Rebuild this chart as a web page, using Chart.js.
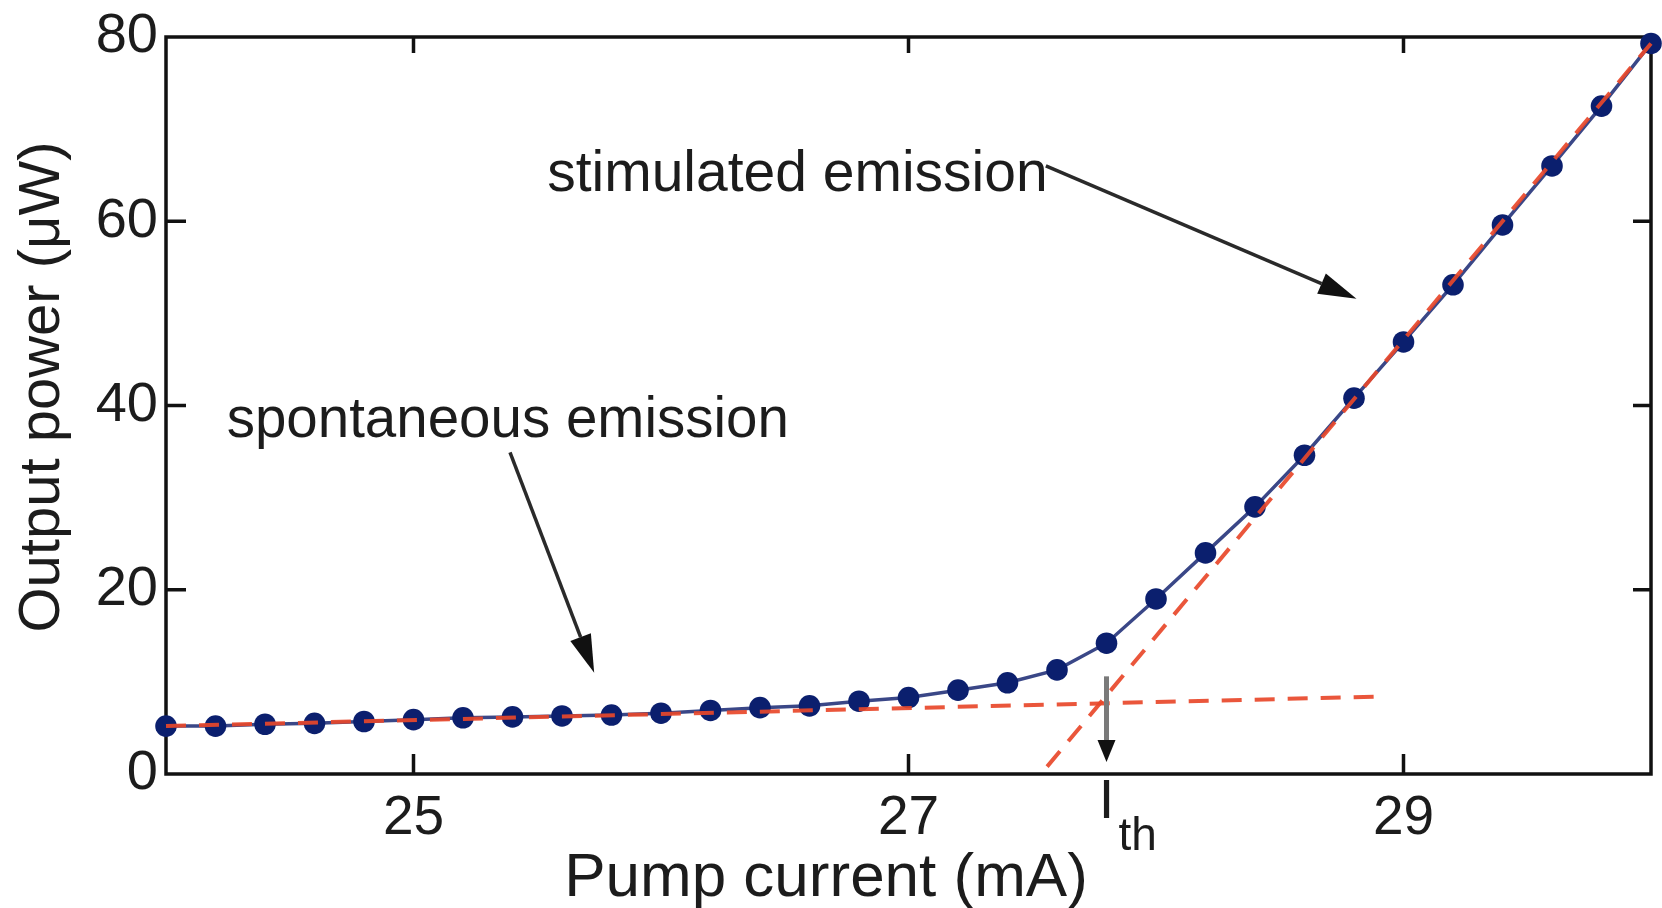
<!DOCTYPE html>
<html>
<head>
<meta charset="utf-8">
<script src="https://cdn.jsdelivr.net/npm/chart.js@4.4.1/dist/chart.umd.min.js"></script>
<style>
  html, body { margin: 0; padding: 0; background: #fff; }
  #wrap { width: 1662px; height: 908px; }
</style>
</head>
<body>
<div id="wrap"><canvas id="chart"></canvas></div>
<script>
// measured L-I curve of the laser
const current = [24.0, 24.2, 24.4, 24.6, 24.8, 25.0, 25.2, 25.4, 25.6, 25.8,
                 26.0, 26.2, 26.4, 26.6, 26.8, 27.0, 27.2, 27.4, 27.6, 27.8,
                 28.0, 28.2, 28.4, 28.6, 28.8, 29.0, 29.2, 29.4, 29.6, 29.8, 30.0]
const power = [5.2, 5.2, 5.4, 5.5, 5.7, 5.9, 6.1, 6.2, 6.3, 6.4,
               6.6, 6.9, 7.2, 7.4, 7.9, 8.3, 9.1, 9.9, 11.3, 14.2,
               19.0, 24.0, 29.0, 34.6, 40.8, 46.9, 53.1, 59.6, 66.0, 72.5, 79.3]

// linear fits below and above threshold
const spontFitX = [24.0, 28.9]
const spontFitY = [5.2, 8.4]
const stimFitX = [27.56, 30.0]
const stimFitY = [0.8, 79.3]

const xTicks = [25, 27, 29]
const yTicks = [0, 20, 40, 60, 80]
const thresholdCurrent = 27.8

const FONT = "'Liberation Sans', Arial, Helvetica, sans-serif"
const TEXT = '#1c1c1c'

const toPoints = (xs, ys) => xs.map((x, i) => ({ x: x, y: ys[i] }))

function drawArrow(ctx, x1, y1, x2, y2, color, width, headLen, headW) {
    const ang = Math.atan2(y2 - y1, x2 - x1)
    const bx = x2 - headLen * Math.cos(ang)
    const by = y2 - headLen * Math.sin(ang)
    ctx.save()
    ctx.strokeStyle = color
    ctx.lineWidth = width
    ctx.beginPath()
    ctx.moveTo(x1, y1)
    ctx.lineTo(bx, by)
    ctx.stroke()
    ctx.fillStyle = '#111'
    ctx.beginPath()
    ctx.moveTo(x2, y2)
    ctx.lineTo(bx + headW / 2 * Math.sin(ang), by - headW / 2 * Math.cos(ang))
    ctx.lineTo(bx - headW / 2 * Math.sin(ang), by + headW / 2 * Math.cos(ang))
    ctx.closePath()
    ctx.fill()
    ctx.restore()
}

// box frame with inward ticks, drawn under the data
const framePlugin = {
    id: 'frame',
    beforeDatasetsDraw(chart) {
        const { ctx, chartArea: a, scales: { x, y } } = chart
        ctx.save()
        ctx.strokeStyle = '#111'
        ctx.lineWidth = 3.5
        ctx.strokeRect(a.left, a.top, a.right - a.left, a.bottom - a.top)
        ctx.beginPath()
        xTicks.forEach(v => {
            const px = x.getPixelForValue(v)
            ctx.moveTo(px, a.bottom); ctx.lineTo(px, a.bottom - 20)
            ctx.moveTo(px, a.top); ctx.lineTo(px, a.top + 16)
        })
        yTicks.slice(1, -1).forEach(v => {
            const py = y.getPixelForValue(v)
            ctx.moveTo(a.left, py); ctx.lineTo(a.left + 20, py)
            ctx.moveTo(a.right, py); ctx.lineTo(a.right - 18, py)
        })
        ctx.stroke()
        ctx.restore()
    }
}

// labels, arrows and the threshold marker
const notesPlugin = {
    id: 'notes',
    afterDraw(chart) {
        const { ctx, chartArea: a, scales: { x, y } } = chart
        const X = v => x.getPixelForValue(v)
        const Y = v => y.getPixelForValue(v)
        ctx.save()
        ctx.fillStyle = TEXT
        ctx.textBaseline = 'alphabetic'
        ctx.textAlign = 'left'
        ctx.font = `57px ${FONT}`
        ctx.fillText('stimulated emission', X(25.54), Y(63.3))
        ctx.font = `56.5px ${FONT}`
        ctx.fillText('spontaneous emission', X(24.245), Y(36.6))

        drawArrow(ctx, X(27.555), Y(66.0), X(28.81), Y(51.6), '#2a2a2a', 3.5, 38, 22)
        drawArrow(ctx, X(25.39), Y(34.9), X(25.73), Y(11.0), '#2a2a2a', 3.5, 38, 22)
        drawArrow(ctx, X(thresholdCurrent), Y(10.6), X(thresholdCurrent), Y(1.3), '#7a7a7a', 5, 22, 18)

        // I_th under the axis
        const ix = X(thresholdCurrent)
        ctx.font = `56px ${FONT}`
        ctx.textAlign = 'center'
        ctx.fillText('I', ix, a.bottom + 44)
        ctx.font = `46px ${FONT}`
        ctx.textAlign = 'left'
        ctx.fillText('th', ix + 12, a.bottom + 76)

        // axis titles
        ctx.font = `62px ${FONT}`
        ctx.textAlign = 'center'
        ctx.fillText('Pump current (mA)', 826, 896)
        ctx.translate(43, 387)
        ctx.rotate(-Math.PI / 2)
        ctx.font = `58px ${FONT}`
        ctx.textBaseline = 'middle'
        ctx.fillText('Output power (μW)', 0, 0)
        ctx.restore()
    }
}

const canvas = document.getElementById('chart')
new Chart(canvas, {
    type: 'line',
    data: {
        datasets: [
            {
                label: 'spontaneous fit',
                data: toPoints(spontFitX, spontFitY),
                borderColor: 'rgba(232, 72, 42, 0.92)',
                borderWidth: 4,
                borderDash: [20, 13],
                pointRadius: 0,
                order: 0,
                clip: false
            },
            {
                label: 'stimulated fit',
                data: toPoints(stimFitX, stimFitY),
                borderColor: 'rgba(232, 72, 42, 0.92)',
                borderWidth: 4,
                borderDash: [20, 13],
                pointRadius: 0,
                order: 0,
                clip: false
            },
            {
                label: 'Output power',
                data: toPoints(current, power),
                borderColor: '#3a4787',
                borderWidth: 3.5,
                pointRadius: 10.8,
                pointBackgroundColor: '#0b1f6e',
                pointBorderWidth: 0,
                tension: 0,
                order: 1,
                clip: false
            }
        ]
    },
    options: {
        responsive: true,
        maintainAspectRatio: false,
        animation: false,
        layout: { padding: { top: 37, right: 11, left: 0, bottom: 0 } },
        plugins: {
            legend: { display: false },
            tooltip: { enabled: false }
        },
        scales: {
            x: {
                type: 'linear',
                min: 24,
                max: 30,
                grid: { display: false, drawTicks: false },
                border: { display: false },
                afterBuildTicks: scale => { scale.ticks = xTicks.map(v => ({ value: v })) },
                afterFit: scale => {
                    scale.height = 134
                    scale.paddingLeft = 0
                    scale.paddingRight = 0
                },
                ticks: {
                    color: TEXT,
                    padding: 12,
                    font: { family: FONT, size: 55 }
                }
            },
            y: {
                min: 0,
                max: 80,
                grid: { display: false, drawTicks: false },
                border: { display: false },
                afterFit: scale => {
                    scale.width = 166
                    scale.paddingTop = 0
                    scale.paddingBottom = 0
                },
                ticks: {
                    stepSize: 20,
                    color: TEXT,
                    padding: 8,
                    font: { family: FONT, size: 56 }
                }
            }
        }
    },
    plugins: [framePlugin, notesPlugin]
})
</script>
</body>
</html>
